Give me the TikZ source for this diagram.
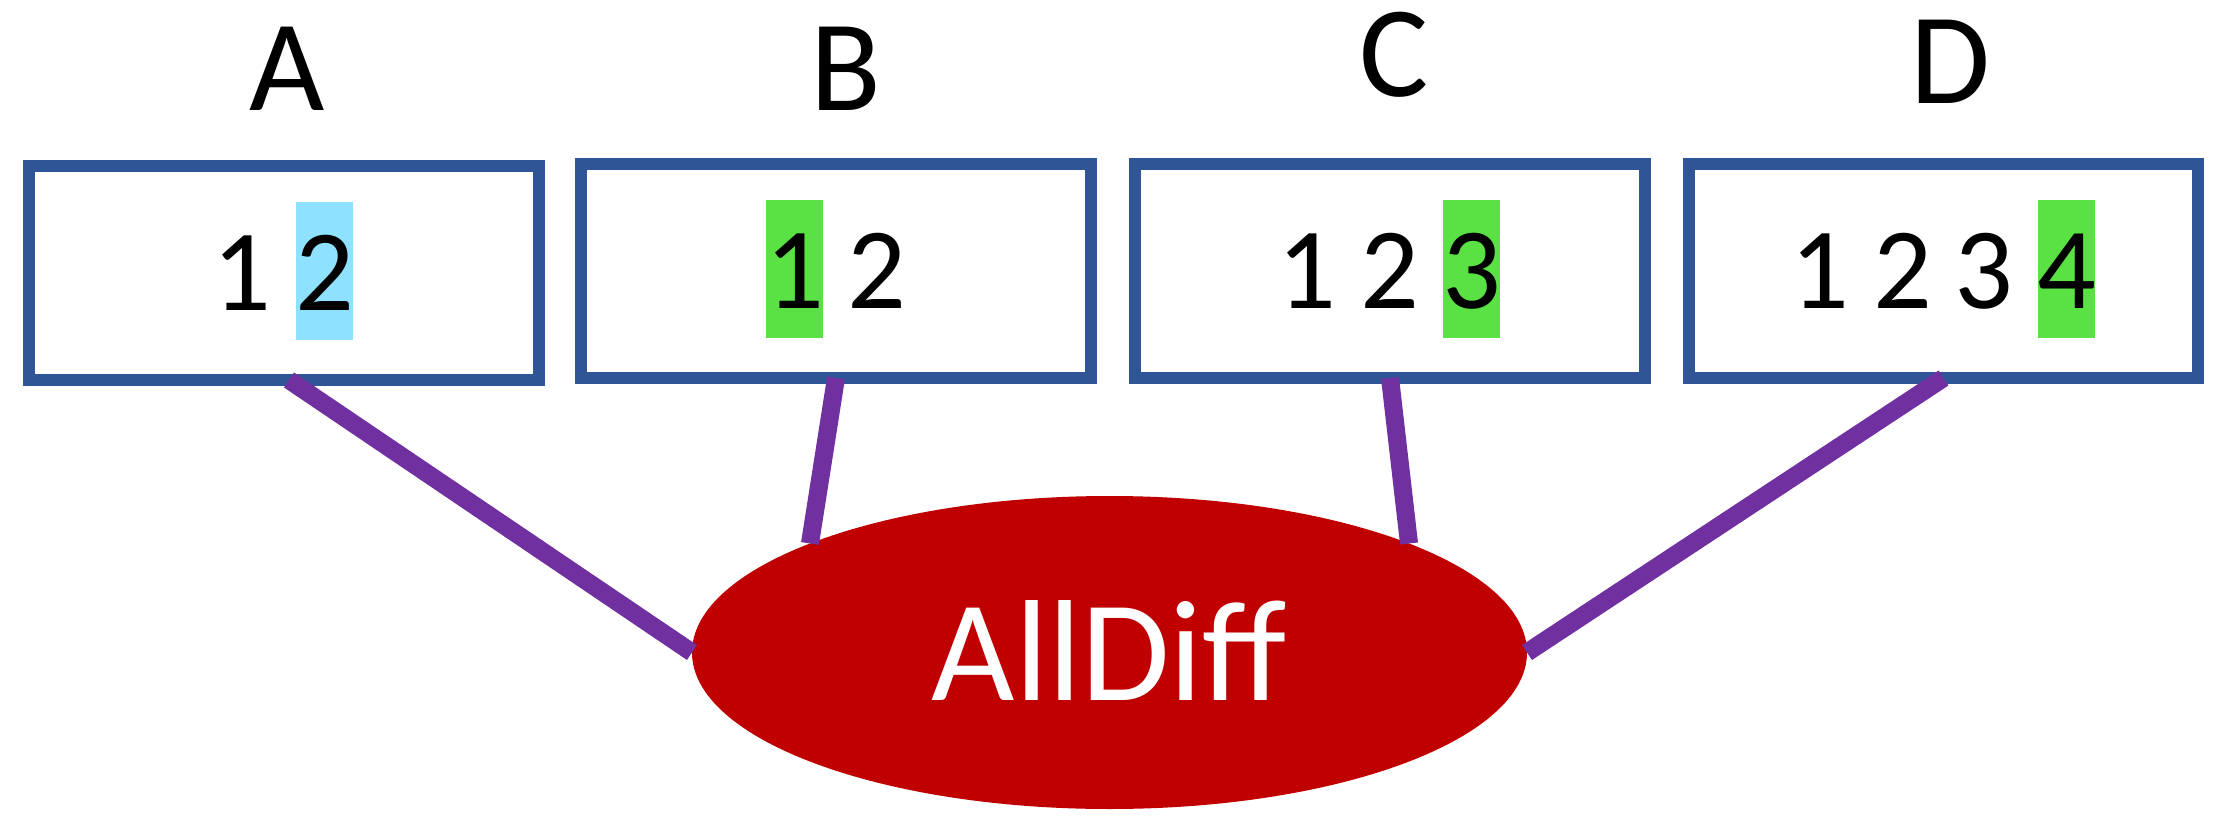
\documentclass[tikz,border=0pt]{standalone}
\usepackage{fontspec}
\setmainfont{Carlito}
\usetikzlibrary{shapes.geometric}
\definecolor{boxblue}{HTML}{2F5597}
\definecolor{hlcyan}{HTML}{8EE1FF}
\definecolor{hlgreen}{HTML}{5AE245}
\definecolor{linkpurple}{HTML}{7030A0}
\definecolor{ellred}{HTML}{C00000}
\begin{document}
\begin{tikzpicture}[x=1pt,y=-1pt,
  varbox/.style={draw=boxblue, line width=12pt, minimum width=510pt, minimum height=214pt, inner sep=0pt, outer sep=0pt},
  varlabel/.style={anchor=base, inner sep=0pt, font=\fontsize{130}{150}\selectfont},
  numtxt/.style={anchor=base, inner sep=0pt, font=\fontsize{116}{138}\selectfont},
  hlbox/.style={minimum width=57pt, minimum height=138pt, inner sep=0pt, outer sep=0pt},
  link/.style={draw=linkpurple, line width=18pt},
  conbox/.style={ellipse, fill=ellred, minimum width=835pt, minimum height=313pt, inner sep=0pt, outer sep=0pt, text=white, text height=95pt, text depth=0pt, font=\fontsize{144}{170}\selectfont}
]
\useasboundingbox (0,0) rectangle (2224,840);

% variable labels
\node[varlabel] (lA) at (287,111) {A};
\node[varlabel] (lB) at (846,111) {B};
\node[varlabel] (lC) at (1394,97) {C};
\node[varlabel] (lD) at (1950,104) {D};

% domain boxes
\node[varbox] (bA) at (284,273) {};
\node[varbox] (bB) at (836,271) {};
\node[varbox] (bC) at (1390,271) {};
\node[varbox, minimum width=509pt] (bD) at (1943.5,271) {};

% highlights
\node[hlbox, fill=hlcyan] (hA) at (324.5,271) {};
\node[hlbox, fill=hlgreen] (hB) at (794.5,269) {};
\node[hlbox, fill=hlgreen] (hC) at (1471.5,269) {};
\node[hlbox, fill=hlgreen] (hD) at (2066.5,269) {};

% domain values
\node[numtxt] (a1) at (242,310) {1};
\node[numtxt] (a2) at (324.5,310) {2};
\node[numtxt] (b1) at (794.5,308) {1};
\node[numtxt] (b2) at (877,308) {2};
\node[numtxt] (c1) at (1307,308) {1};
\node[numtxt] (c2) at (1390,308) {2};
\node[numtxt] (c3) at (1471.5,308) {3};
\node[numtxt] (d1) at (1820,308) {1};
\node[numtxt] (d2) at (1902.5,308) {2};
\node[numtxt] (d3) at (1983.5,308) {3};
\node[numtxt] (d4) at (2066.5,308) {4};

% constraint
\node[conbox] (ell) at (1109.5,652.5) {AllDiff};

% connectors
\draw[link] ([xshift=5pt]bA.south) -- (ell.west);
\draw[link] (bB.south) -- (ell.160);
\draw[link] (bC.south) -- (ell.20);
\draw[link] (bD.south) -- (ell.east);
\end{tikzpicture}
\end{document}
